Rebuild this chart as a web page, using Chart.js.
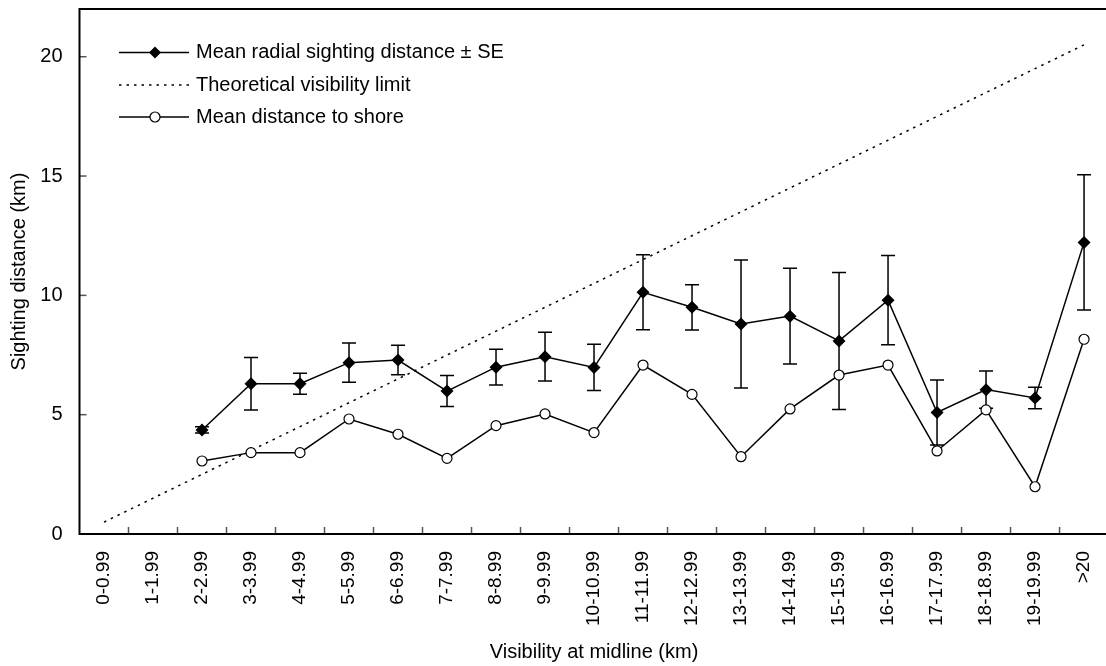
<!DOCTYPE html>
<html>
<head>
<meta charset="utf-8">
<title>Sighting distance by visibility</title>
<script src="https://cdn.jsdelivr.net/npm/chart.js@4/dist/chart.umd.min.js"></script>
<style>
  html, body { margin: 0; padding: 0; background: #fff; overflow: hidden; }
  #wrap { width: 1106px; height: 666px; overflow: hidden; position: relative; }
  canvas { display: block; }
</style>
</head>
<body>
<div id="wrap"><canvas id="c" width="1110" height="666"></canvas></div>
<script>
// Visibility classes along the midline (km)
const categories = ['0-0.99', '1-1.99', '2-2.99', '3-3.99', '4-4.99', '5-5.99', '6-6.99',
  '7-7.99', '8-8.99', '9-9.99', '10-10.99', '11-11.99', '12-12.99', '13-13.99',
  '14-14.99', '15-15.99', '16-16.99', '17-17.99', '18-18.99', '19-19.99', '>20'];

// Mean radial sighting distance (km) and its standard error
const radialMean = [null, null, 4.36, 6.3, 6.3, 7.18, 7.29, 5.99, 6.99, 7.43, 6.98,
  10.13, 9.5, 8.8, 9.13, 8.09, 9.8, 5.09, 6.05, 5.7, 12.22];
const radialSE = [null, null, 0.13, 1.1, 0.44, 0.82, 0.62, 0.65, 0.75, 1.02, 0.97,
  1.57, 0.95, 2.68, 2.01, 2.87, 1.87, 1.36, 0.78, 0.45, 2.83];

// Theoretical visibility limit (km)
const visibilityLimit = [0.5, 1.5, 2.5, 3.5, 4.5, 5.5, 6.5, 7.5, 8.5, 9.5, 10.5,
  11.5, 12.5, 13.5, 14.5, 15.5, 16.5, 17.5, 18.5, 19.5, 20.5];

// Mean distance to shore (km)
const shoreMean = [null, null, 3.06, 3.41, 3.41, 4.82, 4.18, 3.17, 4.54, 5.03, 4.25,
  7.08, 5.85, 3.24, 5.24, 6.66, 7.08, 3.48, 5.2, 1.98, 8.16];

// Value axis tick labels
const yTicks = [0, 5, 10, 15, 20];

const legendItems = [
  { label: 'Mean radial sighting distance \u00b1 SE', marker: 'diamond', dash: [] },
  { label: 'Theoretical visibility limit', marker: null, dash: [2.5, 5] },
  { label: 'Mean distance to shore', marker: 'circle', dash: [] }
];

// Where the plot frame should sit inside the visible page
const FRAME = { left: 79.5, top: 9, right: 1108.5 };

const FONT = "'Liberation Sans', Arial, Helvetica, sans-serif";
Chart.defaults.font.family = FONT;
Chart.defaults.color = '#000';

function drawDiamond(ctx, x, y, r) {
  ctx.beginPath();
  ctx.moveTo(x, y - r);
  ctx.lineTo(x + r, y);
  ctx.lineTo(x, y + r);
  ctx.lineTo(x - r, y);
  ctx.closePath();
  ctx.fillStyle = '#000';
  ctx.fill();
}

function drawCircle(ctx, x, y, r) {
  ctx.beginPath();
  ctx.arc(x, y, r, 0, Math.PI * 2);
  ctx.fillStyle = '#fff';
  ctx.fill();
  ctx.lineWidth = 1.2;
  ctx.strokeStyle = '#000';
  ctx.stroke();
}

// Axis frame, inward tick marks and SE whiskers
const framePlugin = {
  id: 'frame',
  beforeDatasetsDraw(chart) {
    const { ctx, chartArea: a, scales: { x, y } } = chart;
    ctx.save();

    // inward ticks on the value axis
    ctx.strokeStyle = '#555';
    ctx.lineWidth = 1.5;
    yTicks.forEach(v => {
      if (v === 0) return;
      const py = y.getPixelForValue(v);
      ctx.beginPath();
      ctx.moveTo(a.left, py);
      ctx.lineTo(a.left + 7, py);
      ctx.stroke();
    });
    // inward ticks between categories
    for (let i = 0; i < categories.length - 1; i++) {
      const px = (x.getPixelForValue(i) + x.getPixelForValue(i + 1)) / 2;
      ctx.beginPath();
      ctx.moveTo(px, a.bottom);
      ctx.lineTo(px, a.bottom - 7);
      ctx.stroke();
    }

    // frame: left, bottom, top
    ctx.strokeStyle = '#000';
    ctx.lineWidth = 2;
    ctx.beginPath();
    ctx.moveTo(a.right + 2, a.top);
    ctx.lineTo(a.left, a.top);
    ctx.lineTo(a.left, a.bottom);
    ctx.lineTo(a.right + 2, a.bottom);
    ctx.stroke();

    // standard error whiskers
    ctx.strokeStyle = '#000';
    ctx.lineWidth = 1.5;
    radialMean.forEach((m, i) => {
      if (m === null) return;
      const se = radialSE[i];
      const px = x.getPixelForValue(i);
      const top = y.getPixelForValue(m + se);
      const bot = y.getPixelForValue(m - se);
      ctx.beginPath();
      ctx.moveTo(px, top);
      ctx.lineTo(px, bot);
      ctx.moveTo(px - 7, top);
      ctx.lineTo(px + 7, top);
      ctx.moveTo(px - 7, bot);
      ctx.lineTo(px + 7, bot);
      ctx.stroke();
    });
    ctx.restore();
  }
};

// Legend in the upper left of the plot (page coordinates)
let legendShift = 0;
const legendPlugin = {
  id: 'cornerLegend',
  afterDraw(chart) {
    const { ctx } = chart;
    const x0 = 119, x1 = 189, xm = 155, tx = 196;
    const rows = [52.5, 85, 117];
    ctx.save();
    legendItems.forEach((it, k) => {
      const yy = rows[k] + legendShift;
      ctx.strokeStyle = '#000';
      ctx.lineWidth = 1.5;
      ctx.setLineDash(it.dash);
      ctx.beginPath();
      ctx.moveTo(x0, yy);
      ctx.lineTo(x1, yy);
      ctx.stroke();
      ctx.setLineDash([]);
      if (it.marker === 'diamond') drawDiamond(ctx, xm, yy, 6);
      if (it.marker === 'circle') drawCircle(ctx, xm, yy, 5);
      ctx.fillStyle = '#000';
      ctx.font = '20px ' + FONT;
      ctx.textBaseline = 'middle';
      ctx.textAlign = 'left';
      ctx.fillText(it.label, tx, yy);
    });
    ctx.restore();
  }
};

function makeConfig() {
  return {
    type: 'line',
    data: {
      labels: categories,
      datasets: [
        {
          label: 'Mean radial sighting distance \u00b1 SE',
          data: radialMean,
          borderColor: '#000',
          borderWidth: 1.5,
          pointStyle: 'rectRot',
          pointRadius: 6.5,
          pointBackgroundColor: '#000',
          pointBorderColor: '#000',
          pointBorderWidth: 0,
          tension: 0,
          order: 1
        },
        {
          label: 'Theoretical visibility limit',
          data: visibilityLimit,
          borderColor: '#000',
          borderWidth: 1.5,
          borderDash: [2.5, 5],
          pointRadius: 0,
          tension: 0,
          order: 3
        },
        {
          label: 'Mean distance to shore',
          data: shoreMean,
          borderColor: '#000',
          borderWidth: 1.5,
          pointStyle: 'circle',
          pointRadius: 5,
          pointBackgroundColor: '#fff',
          pointBorderColor: '#000',
          pointBorderWidth: 1.2,
          tension: 0,
          order: 2
        }
      ]
    },
    options: {
      responsive: false,
      maintainAspectRatio: false,
      animation: false,
      events: [],
      layout: { padding: { left: 0, right: 1.5, top: 9, bottom: 0 } },
      plugins: {
        legend: { display: false },
        tooltip: { enabled: false }
      },
      scales: {
        x: {
          type: 'category',
          offset: true,
          grid: { display: false, drawTicks: false },
          border: { display: false },
          ticks: {
            autoSkip: false,
            maxRotation: 90,
            minRotation: 90,
            padding: 17,
            font: { size: 19 },
            color: '#000'
          },
          title: {
            display: true,
            text: 'Visibility at midline (km)',
            font: { size: 20 },
            color: '#000',
            padding: { top: 0, bottom: 2 }
          },
          afterFit(scale) { scale.height = 132; }
        },
        y: {
          min: 0,
          max: 22,
          grid: { display: false, drawTicks: false },
          border: { display: false },
          afterBuildTicks(scale) { scale.ticks = yTicks.map(v => ({ value: v })); },
          ticks: {
            padding: 17,
            font: { size: 20 },
            color: '#000'
          },
          title: {
            display: true,
            text: 'Sighting distance (km)',
            font: { size: 20 },
            color: '#000',
            padding: { top: 7, bottom: 0 }
          },
          afterFit(scale) { scale.width = FRAME.left; }
        }
      }
    },
    plugins: [framePlugin, legendPlugin]
  };
}

// First pass measures the automatic label padding, second pass sizes the
// canvas so the frame lands where it should in the 1106x666 page.
const canvas = document.getElementById('c');
let chart = new Chart(canvas, makeConfig());
const area = chart.chartArea;
const baseWidth = chart.width;
const extraTop = area.top - FRAME.top;
const missingRight = FRAME.right - area.right;
chart.destroy();

canvas.width = Math.round(baseWidth + missingRight);
canvas.height = Math.round(666 + extraTop);
canvas.style.marginTop = (-Math.round(extraTop)) + 'px';
legendShift = Math.round(extraTop);
chart = new Chart(canvas, makeConfig());
</script>
</body>
</html>
